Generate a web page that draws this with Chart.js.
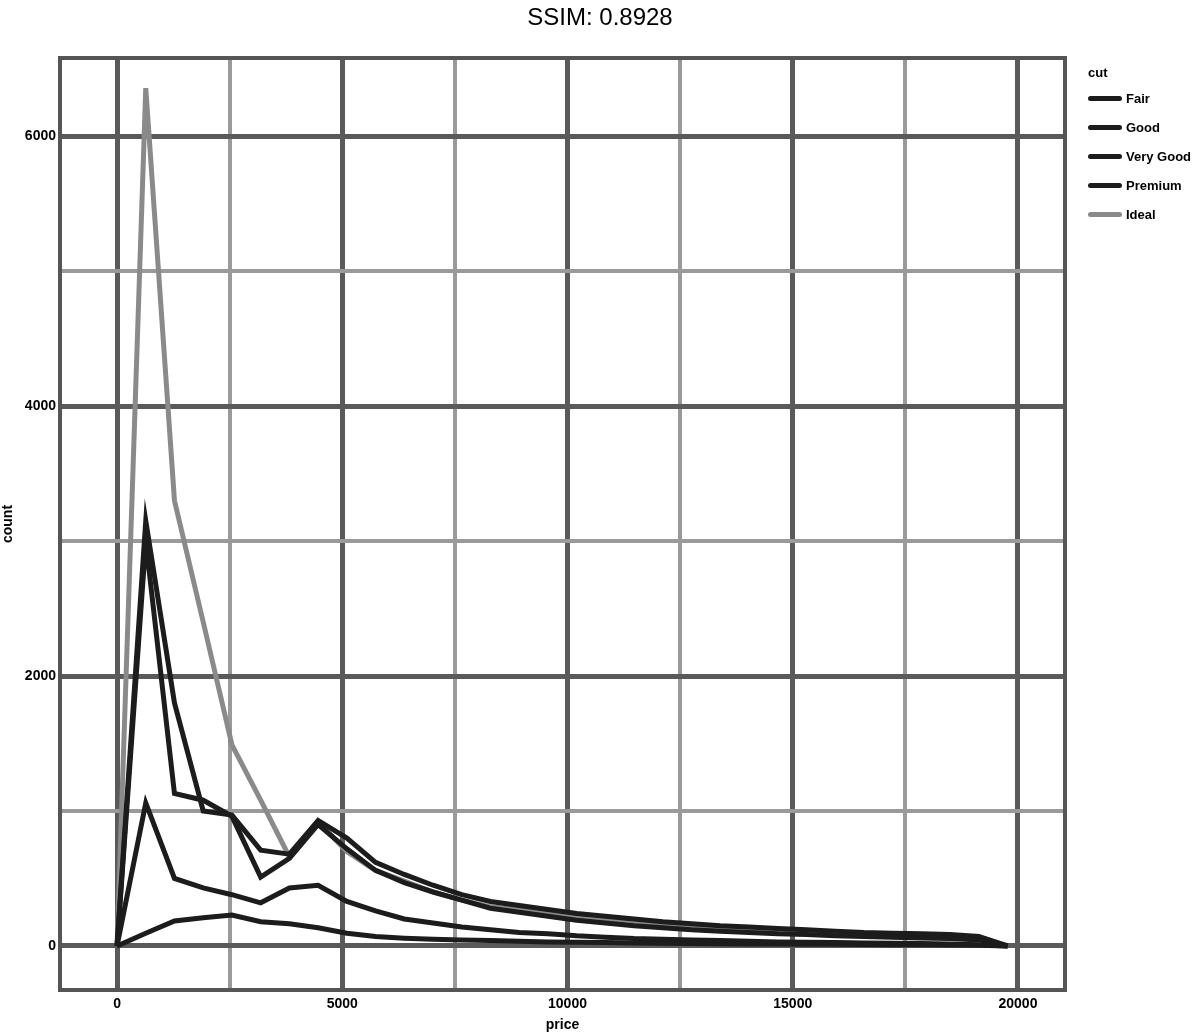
<!DOCTYPE html>
<html>
<head>
<meta charset="utf-8">
<script src="https://cdn.jsdelivr.net/npm/chart.js@4"></script>
<style>
  body { margin: 0; background: #fff; font-family: "Liberation Sans", Arial, sans-serif; }
  #wrap { position: relative; width: 1200px; height: 1034px; }
  #legend { position: absolute; left: 1088px; top: 62px; font-weight: bold; font-size: 13px; color: #000; }
  #legend .ttl { height: 22px; line-height: 22px; }
  #legend .row { height: 29px; display: flex; align-items: center; }
  #legend .sw { width: 34px; height: 5px; margin-right: 4px; border-radius: 3px; }
</style>
</head>
<body>
<div id="wrap">
  <canvas id="chart" width="1200" height="1034"></canvas>
  <div id="legend"></div>
</div>
<script>
// bin centres (price) of the frequency polygon, incl. zero padding at both ends
const priceBins = [0, 638, 1275, 1913, 2551, 3189, 3826, 4464, 5102, 5739, 6377, 7015, 7653, 8290, 8928, 9566,
    10204, 10841, 11479, 12117, 12755, 13392, 14030, 14668, 15306, 15943, 16581, 17219, 17857, 18494, 19132, 19769];

const cuts = ["Fair", "Good", "Very Good", "Premium", "Ideal"];

const fairCounts = [0, 95, 185, 210, 230, 180, 165, 135, 95, 70, 58, 50, 45, 40, 35, 30, 28, 25, 22, 20, 18, 16, 15, 14, 13, 12, 11, 10, 9, 8, 6, 0];
const goodCounts = [0, 1060, 500, 430, 380, 320, 430, 450, 330, 260, 200, 170, 140, 120, 100, 90, 75, 65, 55, 50, 45, 40, 35, 30, 28, 25, 22, 20, 18, 15, 10, 0];
const veryGoodCounts = [0, 3000, 1130, 1080, 960, 510, 650, 900, 720, 560, 470, 400, 340, 280, 250, 220, 190, 170, 150, 135, 120, 110, 100, 90, 85, 75, 70, 65, 60, 55, 45, 0];
const premiumCounts = [0, 3150, 1800, 1000, 970, 710, 680, 930, 800, 620, 530, 450, 380, 330, 300, 270, 240, 220, 200, 180, 165, 150, 140, 130, 120, 110, 100, 95, 90, 85, 70, 0];
const idealCounts = [0, 6355, 3300, 2400, 1490, 1080, 660, 920, 700, 560, 480, 400, 340, 290, 270, 240, 220, 200, 180, 165, 150, 140, 130, 120, 110, 100, 95, 90, 85, 80, 60, 0];

const xTicks = [0, 2500, 5000, 7500, 10000, 12500, 15000, 17500, 20000];
const yTicks = [0, 1000, 2000, 3000, 4000, 5000, 6000];

const lineColors = ["#1c1c1c", "#1c1c1c", "#1c1c1c", "#1c1c1c", "#8a8a8a"];
const allCounts = [fairCounts, goodCounts, veryGoodCounts, premiumCounts, idealCounts];

const frame = {
    id: "frame",
    beforeDatasetsDraw(chart) {
        const a = chart.chartArea, ctx = chart.ctx;
        ctx.save();
        ctx.strokeStyle = "#555";
        ctx.lineWidth = 4;
        ctx.strokeRect(a.left, a.top, a.right - a.left, a.bottom - a.top);
        ctx.restore();
    }
};

new Chart(document.getElementById("chart"), {
    type: "line",
    data: {
        datasets: cuts.map((cut, i) => ({
            label: cut,
            data: priceBins.map((p, k) => ({ x: p, y: allCounts[i][k] })),
            borderColor: lineColors[i],
            borderWidth: 5,
            pointRadius: 0,
            tension: 0,
            fill: false
        }))
    },
    options: {
        responsive: false,
        animation: false,
        layout: { padding: 0 },
        plugins: {
            legend: { display: false },
            tooltip: { enabled: false },
            title: {
                display: true,
                text: "SSIM: 0.8928",
                color: "#000",
                font: { family: "Liberation Sans", size: 24, weight: "normal" },
                padding: { top: 4, bottom: 25.2 }
            }
        },
        scales: {
            x: {
                type: "linear",
                min: -1266,
                max: 21044,
                afterBuildTicks: (s) => { s.ticks = xTicks.map(v => ({ value: v })); },
                afterFit: (s) => { s.height = 44; },
                grid: {
                    color: (c) => (c.tick && c.tick.value % 5000 == 0) ? "#5a5a5a" : "#9a9a9a",
                    lineWidth: (c) => (c.tick && c.tick.value % 5000 == 0) ? 5 : 4,
                    drawTicks: false
                },
                border: { display: false },
                ticks: {
                    color: "#000",
                    padding: 6,
                    maxRotation: 0,
                    autoSkip: false,
                    font: { family: "Liberation Sans", size: 14, weight: "bold" },
                    callback: (v) => v % 5000 == 0 ? String(v) : ""
                },
                title: {
                    display: true,
                    text: "price",
                    color: "#000",
                    padding: 0,
                    font: { family: "Liberation Sans", size: 14, weight: "bold" }
                }
            },
            y: {
                type: "linear",
                min: -326,
                max: 6578,
                afterBuildTicks: (s) => { s.ticks = yTicks.map(v => ({ value: v })); },
                afterFit: (s) => { s.width = 60; },
                grid: {
                    color: (c) => (c.tick && c.tick.value % 2000 == 0) ? "#5a5a5a" : "#9a9a9a",
                    lineWidth: (c) => (c.tick && c.tick.value % 2000 == 0) ? 5 : 4,
                    drawTicks: false
                },
                border: { display: false },
                ticks: {
                    color: "#000",
                    padding: 4,
                    autoSkip: false,
                    font: { family: "Liberation Sans", size: 14, weight: "bold" },
                    callback: (v) => v % 2000 == 0 ? String(v) : ""
                },
                title: {
                    display: true,
                    text: "count",
                    color: "#000",
                    padding: 0,
                    font: { family: "Liberation Sans", size: 14, weight: "bold" }
                }
            },
            // empty axis on the right that only reserves room for the legend
            side: {
                type: "linear",
                position: "right",
                afterFit: (s) => { s.width = 135; },
                grid: { display: false },
                border: { display: false },
                ticks: { display: false }
            }
        }
    },
    plugins: [frame]
});

// legend
const legend = document.getElementById("legend");
legend.innerHTML = '<div class="ttl">cut</div>' + cuts.map((cut, i) =>
    '<div class="row"><span class="sw" style="background:' + lineColors[i] + '"></span>' + cut + '</div>'
).join("");
</script>
</body>
</html>
